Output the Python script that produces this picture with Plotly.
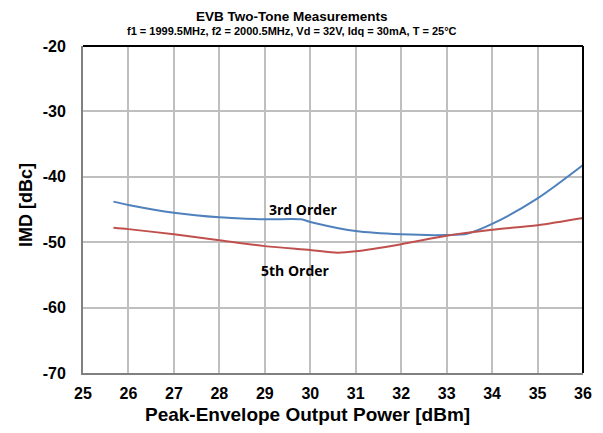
import plotly.graph_objects as go

x3 = [25.67, 26.0, 27.0, 28.0, 29.0, 29.8, 30.0, 31.0, 32.0, 33.0, 33.45, 34.0, 35.0, 36.0]
y3 = [-43.8, -44.3, -45.5, -46.2, -46.5, -46.5, -46.9, -48.3, -48.8, -48.9, -48.7, -47.2, -43.3, -38.2]

x5 = [25.67, 26.0, 27.0, 28.0, 29.0, 30.0, 30.6, 31.0, 32.0, 33.0, 34.0, 35.0, 36.0]
y5 = [-47.8, -48.0, -48.8, -49.7, -50.6, -51.2, -51.6, -51.4, -50.3, -49.0, -48.1, -47.4, -46.3]

x_ticks = [25, 26, 27, 28, 29, 30, 31, 32, 33, 34, 35, 36]
x_ticklabels = ["25", "26", "27", "28", "29", "30", "31", "32", "33", "34", "35", "36"]
y_ticks = [-70, -60, -50, -40, -30, -20]
y_ticklabels = ["-70", "-60", "-50", "-40", "-30", "-20"]

title = "EVB Two-Tone Measurements"
subtitle = "f1 = 1999.5MHz, f2 = 2000.5MHz, Vd = 32V, Idq = 30mA, T = 25°C"
x_title = "Peak-Envelope Output Power [dBm]"
y_title = "IMD [dBc]"

FONT = "Arial, Liberation Sans, sans-serif"
LFONT = "Open Sans, sans-serif"

# the page body adds an 8px offset, so the figure is 8px smaller
OFF = 8
W, H = 603 - OFF, 433 - OFF
L, R, T, B = 83 - OFF, 20, 46 - OFF, 60
PW = W - L - R
PH = H - T - B

fig = go.Figure()
fig.add_trace(go.Scatter(x=x3, y=y3, mode="lines", name="3rd Order",
                         line=dict(color="#4F81BD", width=2, shape="spline", smoothing=0.8)))
fig.add_trace(go.Scatter(x=x5, y=y5, mode="lines", name="5th Order",
                         line=dict(color="#C0504D", width=2, shape="spline", smoothing=0.8)))

fig.add_annotation(x=29.85, y=-45.0, text="3rd Order", showarrow=False,
                   font=dict(family=LFONT, size=14, weight="bold", color="#000000"))
fig.add_annotation(x=29.67, y=-54.3, text="5th Order", showarrow=False,
                   font=dict(family=LFONT, size=14, weight="bold", color="#000000"))

cx = (292 - 83) / PW
fig.add_annotation(xref="paper", yref="paper", x=cx, y=1, yshift=30,
                   text="<b>" + title + "</b>", showarrow=False, yanchor="middle",
                   font=dict(family=FONT, size=13.5, color="#000000"))
fig.add_annotation(xref="paper", yref="paper", x=cx, y=1, yshift=15,
                   text="<b>" + subtitle + "</b>", showarrow=False, yanchor="middle",
                   font=dict(family=FONT, size=11, color="#000000"))

# axis titles placed explicitly
fig.add_annotation(xref="paper", yref="paper", x=(307 - 83) / PW, y=0, yshift=-(414 - 373),
                   text="<b>" + x_title + "</b>", showarrow=False, yanchor="middle",
                   font=dict(family=FONT, size=19, color="#000000"))
fig.add_annotation(xref="paper", yref="paper", x=0, xshift=-(83 - 26), y=(373 - 205) / PH,
                   text="<b>" + y_title + "</b>", showarrow=False, textangle=-90, xanchor="center",
                   font=dict(family=FONT, size=18, color="#000000"))

# top and right frame in black
fig.add_shape(type="line", xref="paper", yref="paper", x0=0, x1=1, y0=1, y1=1,
              line=dict(color="#000000", width=2))
fig.add_shape(type="line", xref="paper", yref="paper", x0=1, x1=1, y0=0, y1=1,
              line=dict(color="#000000", width=2))

fig.update_layout(
    width=W, height=H,
    margin=dict(l=L, r=R, t=T, b=B),
    paper_bgcolor="white", plot_bgcolor="white",
    showlegend=False,
    font=dict(family=FONT, color="#000000"),
    xaxis=dict(range=[25, 36], tickvals=x_ticks,
               ticktext=["<b>" + t + "</b>" for t in x_ticklabels], automargin=False,
               showgrid=True, gridcolor="#BFBFBF", gridwidth=1.5,
               showline=True, linecolor="#808080", linewidth=2, ticks="outside", ticklen=5,
               tickcolor="rgba(0,0,0,0)",
               tickfont=dict(family=FONT, size=16, color="#000000"),
               zeroline=False),
    yaxis=dict(range=[-70, -20], tickvals=y_ticks,
               ticktext=["<b>" + t + "</b>" for t in y_ticklabels], automargin=False,
               showgrid=True, gridcolor="#BFBFBF", gridwidth=1.5,
               showline=True, linecolor="#808080", linewidth=2, ticks="outside", ticklen=12,
               tickcolor="rgba(0,0,0,0)",
               tickfont=dict(family=FONT, size=16, color="#000000"),
               zeroline=False),
)

fig.write_html("out.html")
